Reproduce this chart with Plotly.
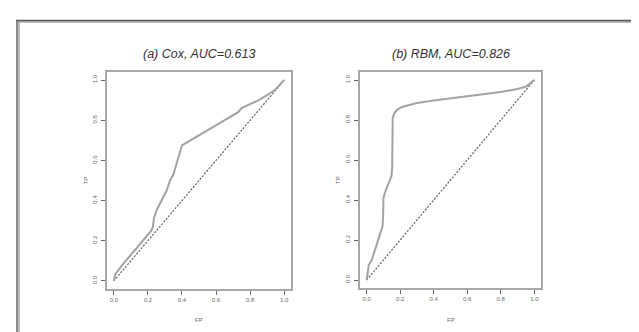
import plotly.graph_objects as go

# ---- data ----
cox_fp = [0, 0.005, 0.01, 0.05, 0.10, 0.15, 0.20, 0.22, 0.23, 0.235, 0.25, 0.28, 0.31, 0.33, 0.35,
          0.36, 0.40, 0.45, 0.50, 0.55, 0.60, 0.65, 0.70, 0.73, 0.75, 0.80, 0.85, 0.90, 0.945, 1.0]
cox_tp = [0, 0.02, 0.035, 0.08, 0.13, 0.18, 0.225, 0.25, 0.27, 0.31, 0.35, 0.40, 0.45, 0.50, 0.53,
          0.56, 0.675, 0.70, 0.725, 0.75, 0.775, 0.80, 0.825, 0.84, 0.86, 0.88, 0.90, 0.925, 0.95, 1.0]

rbm_fp = [0, 0.005, 0.012, 0.03, 0.045, 0.06, 0.08, 0.095, 0.098, 0.10, 0.11, 0.13, 0.148, 0.152,
          0.152, 0.155, 0.165, 0.18, 0.21, 0.25, 0.30, 0.40, 0.50, 0.60, 0.70, 0.80, 0.90, 0.95, 1.0]
rbm_tp = [0, 0.03, 0.075, 0.10, 0.14, 0.185, 0.24, 0.27, 0.33, 0.41, 0.44, 0.48, 0.52, 0.56,
          0.78, 0.81, 0.835, 0.85, 0.865, 0.875, 0.885, 0.897, 0.908, 0.918, 0.928, 0.94, 0.955, 0.967, 1.0]

diag = [0, 1]
tick_vals = [0, 0.2, 0.4, 0.6, 0.8, 1.0]
tick_text = ["0.0", "0.2", "0.4", "0.6", "0.8", "1.0"]
titles = ["(a) Cox, AUC=0.613", "(b) RBM, AUC=0.826"]
x_title = "FP"
y_title = "TP"

W, H = 639, 332
FONT = "Liberation Sans, Arial, sans-serif"
CURVE = "#a2a2a2"
DIAG = "#5e5e5e"
BOX = "#a8a8a8"
TXT = "#666666"

# plot boxes in pixels: (left, right, top, bottom)
boxes = [(99, 283, 64, 281), (352, 533, 64, 280)]

fig = go.Figure()
series = [(cox_fp, cox_tp), (rbm_fp, rbm_tp)]

for i, ((fp, tp), (l, r, t, b)) in enumerate(zip(series, boxes)):
    xa = "x" if i == 0 else "x2"
    ya = "y" if i == 0 else "y2"
    fig.add_trace(go.Scatter(x=diag, y=diag, mode="lines", xaxis=xa, yaxis=ya,
                             line=dict(color=DIAG, width=1.2, dash="2px,1.5px"), showlegend=False,
                             hoverinfo="skip"))
    fig.add_trace(go.Scatter(x=fp, y=tp, mode="lines", xaxis=xa, yaxis=ya,
                             line=dict(color=CURVE, width=2), showlegend=False))
    axcommon = dict(range=[-0.04, 1.04], showgrid=False, zeroline=False, showline=True,
                    mirror=True, linecolor=BOX, linewidth=1.5, ticks="outside", ticklen=4,
                    tickcolor=TXT, tickwidth=1, tickvals=tick_vals, ticktext=tick_text,
                    tickfont=dict(family=FONT, size=6, color=TXT), fixedrange=True)
    xkey = "xaxis" if i == 0 else "xaxis2"
    ykey = "yaxis" if i == 0 else "yaxis2"
    fig.update_layout(**{
        xkey: dict(domain=[l / W, r / W], anchor=ya, **axcommon),
        ykey: dict(domain=[1 - b / H, 1 - t / H], anchor=xa, tickangle=-90,
                   ticklabelstandoff=2, **axcommon),
    })
    cx = (l + r) / 2
    fig.add_annotation(text=titles[i], x=cx / W, y=1 - 46 / H, xref="paper", yref="paper",
                       showarrow=False, xanchor="center", yanchor="middle",
                       font=dict(family=FONT, size=12.5, color="#333333", style="italic"))
    fig.add_annotation(text=x_title, x=cx / W, y=1 - 312 / H, xref="paper", yref="paper",
                       showarrow=False, xanchor="center", yanchor="middle",
                       font=dict(family=FONT, size=6, color=TXT))
    fig.add_annotation(text=y_title, x=(l - 22) / W, y=1 - ((t + b) / 2) / H, xref="paper",
                       yref="paper", showarrow=False, xanchor="center", yanchor="middle",
                       textangle=-90, font=dict(family=FONT, size=6, color=TXT))

# outer frame (top and left edges with soft shadow)
fig.add_shape(type="line", xref="paper", yref="paper", x0=9 / W, x1=1, y0=1 - 14 / H, y1=1 - 14 / H,
              line=dict(color="#bbbbbb", width=2))
fig.add_shape(type="line", xref="paper", yref="paper", x0=11 / W, x1=11 / W, y0=0, y1=1 - 12 / H,
              line=dict(color="#bbbbbb", width=2))
fig.add_shape(type="line", xref="paper", yref="paper", x0=8 / W, x1=1, y0=1 - 12.5 / H, y1=1 - 12.5 / H,
              line=dict(color="#555555", width=1.5))
fig.add_shape(type="line", xref="paper", yref="paper", x0=9 / W, x1=9 / W, y0=0, y1=1 - 12 / H,
              line=dict(color="#666666", width=1.5))

fig.update_layout(width=W, height=H, margin=dict(l=0, r=0, t=0, b=0),
                  paper_bgcolor="white", plot_bgcolor="white", showlegend=False)

fig.write_html("out.html")
